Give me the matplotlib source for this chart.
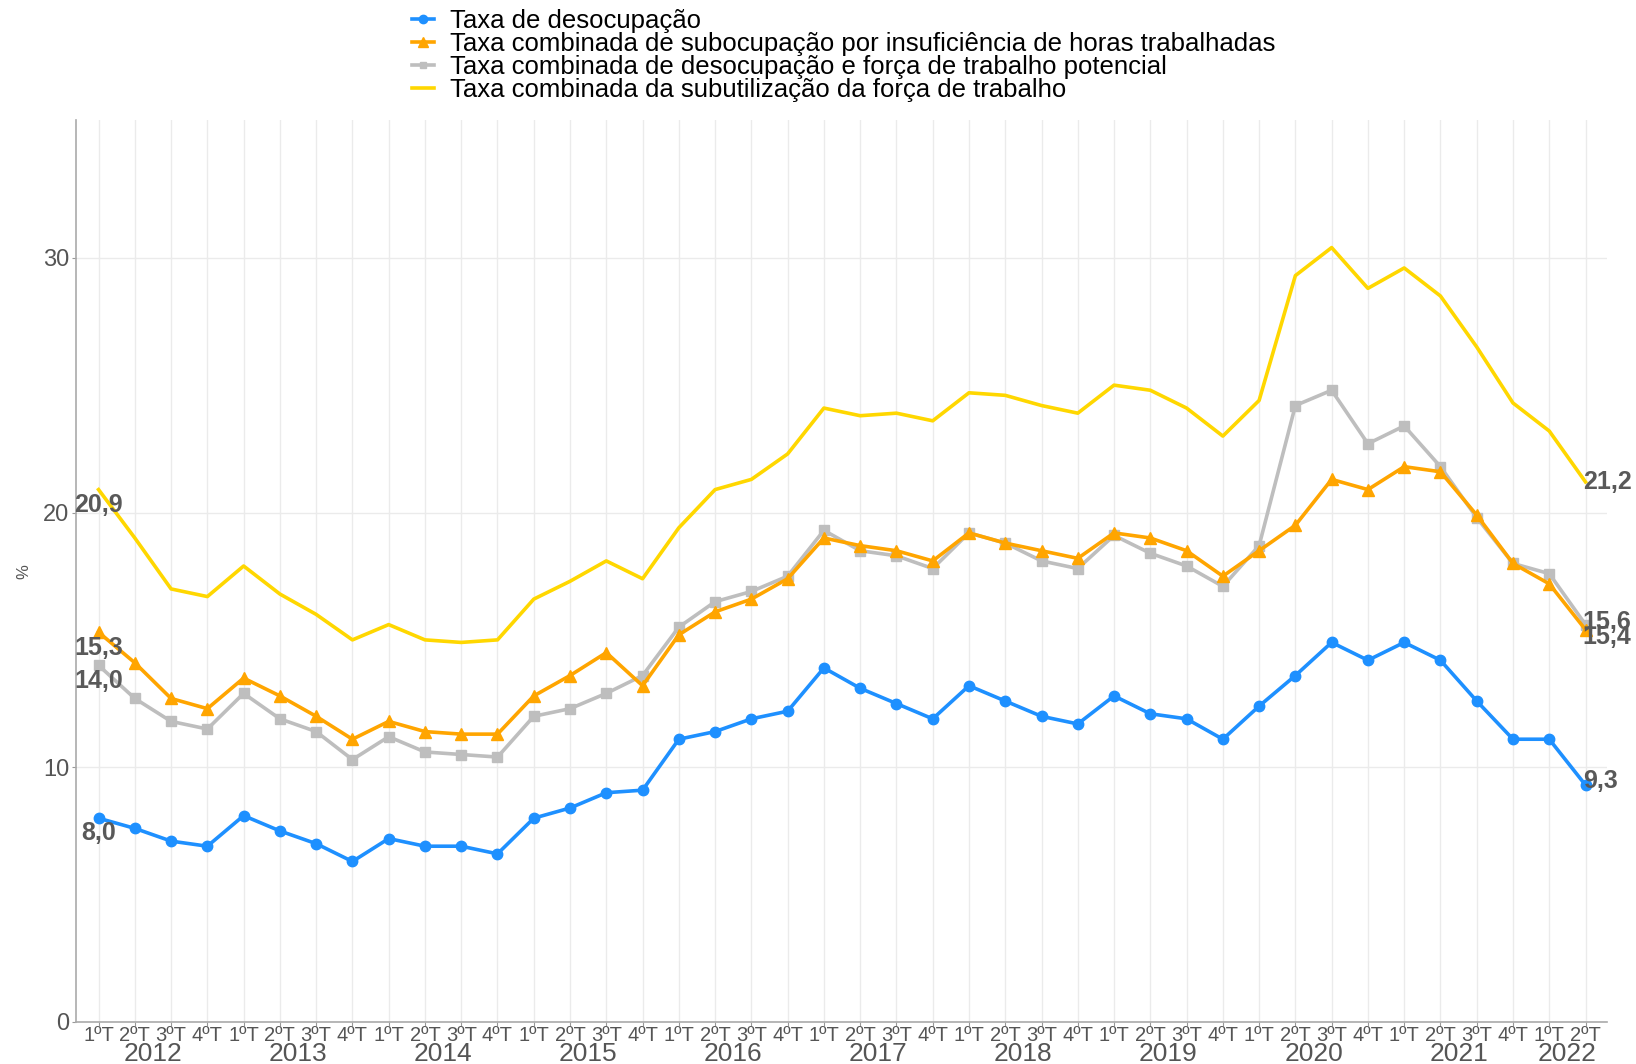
import matplotlib
matplotlib.use("Agg")
import matplotlib.pyplot as plt
from matplotlib.lines import Line2D
from matplotlib import transforms

plt.rcParams['font.family'] = ['Liberation Sans', 'DejaVu Sans']

# trimestres 2012T1 .. 2022T2
anos = ['2012', '2013', '2014', '2015', '2016', '2017', '2018', '2019', '2020', '2021', '2022']
trimestres = ['1ºT', '2ºT', '3ºT', '4ºT'] * 10 + ['1ºT', '2ºT']

desocupacao = [8.0, 7.6, 7.1, 6.9, 8.1, 7.5, 7.0, 6.3, 7.2, 6.9, 6.9, 6.6,
               8.0, 8.4, 9.0, 9.1, 11.1, 11.4, 11.9, 12.2, 13.9, 13.1, 12.5, 11.9,
               13.2, 12.6, 12.0, 11.7, 12.8, 12.1, 11.9, 11.1, 12.4, 13.6, 14.9, 14.2,
               14.9, 14.2, 12.6, 11.1, 11.1, 9.3]
subocupacao = [15.3, 14.1, 12.7, 12.3, 13.5, 12.8, 12.0, 11.1, 11.8, 11.4, 11.3, 11.3,
               12.8, 13.6, 14.5, 13.2, 15.2, 16.1, 16.6, 17.4, 19.0, 18.7, 18.5, 18.1,
               19.2, 18.8, 18.5, 18.2, 19.2, 19.0, 18.5, 17.5, 18.5, 19.5, 21.3, 20.9,
               21.8, 21.6, 19.9, 18.0, 17.2, 15.4]
potencial = [14.0, 12.7, 11.8, 11.5, 12.9, 11.9, 11.4, 10.3, 11.2, 10.6, 10.5, 10.4,
             12.0, 12.3, 12.9, 13.6, 15.5, 16.5, 16.9, 17.5, 19.3, 18.5, 18.3, 17.8,
             19.2, 18.8, 18.1, 17.8, 19.1, 18.4, 17.9, 17.1, 18.7, 24.2, 24.8, 22.7,
             23.4, 21.8, 19.8, 18.0, 17.6, 15.6]
subutilizacao = [20.9, 19.0, 17.0, 16.7, 17.9, 16.8, 16.0, 15.0, 15.6, 15.0, 14.9, 15.0,
                 16.6, 17.3, 18.1, 17.4, 19.4, 20.9, 21.3, 22.3, 24.1, 23.8, 23.9, 23.6,
                 24.7, 24.6, 24.2, 23.9, 25.0, 24.8, 24.1, 23.0, 24.4, 29.3, 30.4, 28.8,
                 29.6, 28.5, 26.5, 24.3, 23.2, 21.2]

nomes = ['Taxa de desocupação',
         'Taxa combinada de subocupação por insuficiência de horas trabalhadas',
         'Taxa combinada de desocupação e força de trabalho potencial',
         'Taxa combinada da subutilização da força de trabalho']
cores = ['#1E90FF', '#FFA500', '#BEBEBE', '#FFD700']

x = list(range(len(trimestres)))

fig = plt.figure(figsize=(16.36, 10.64), dpi=100)
ax = fig.add_axes([0.0465, 0.0395, 0.9355, 0.8475])

ax.plot(x, subutilizacao, color=cores[3], lw=2.6, zorder=2)
ax.plot(x, potencial, color=cores[2], lw=2.6, marker='s', ms=6.5, zorder=3)
ax.plot(x, subocupacao, color=cores[1], lw=2.6, marker='^', ms=8.5, zorder=4)
ax.plot(x, desocupacao, color=cores[0], lw=2.6, marker='o', ms=7.5, zorder=5)

# rótulos no início e no fim das séries
rot = dict(fontsize=18, fontweight='bold', color='#595959', zorder=6)
for serie in [desocupacao, subocupacao, potencial, subutilizacao]:
    ax.annotate(f"{serie[0]:.1f}".replace('.', ','), (x[0], serie[0]),
                xytext=(0, -11), textcoords='offset points',
                ha='center', va='center', **rot)
fim = [(subutilizacao, 0), (potencial, 2), (subocupacao, -5), (desocupacao, 3)]
for serie, dy in fim:
    ax.annotate(f"{serie[-1]:.1f}".replace('.', ','), (x[-1], serie[-1]),
                xytext=(-2, dy), textcoords='offset points',
                ha='left', va='center', **rot)

ax.set_xlim(-0.62, 41.58)
ax.set_ylim(0, 35.4)
ax.set_yticks([0, 10, 20, 30])
ax.set_xticks(x)
ax.set_xticklabels(trimestres, fontsize=14.5, color='#555555')
ax.tick_params(axis='y', labelsize=17, labelcolor='#555555', color='#999999',
               length=3, pad=2)
ax.tick_params(axis='x', color='#999999', length=3, pad=0)
ax.grid(True, color='#EBEBEB', lw=1)
ax.set_axisbelow(True)
for s in ['top', 'right']:
    ax.spines[s].set_visible(False)
for s in ['left', 'bottom']:
    ax.spines[s].set_color('#AAAAAA')
    ax.spines[s].set_linewidth(1.2)

trans = transforms.blended_transform_factory(ax.transData, ax.transAxes)
for k, ano in enumerate(anos):
    pos = 4 * k + 1.5 if k < 10 else 40.5
    ax.text(pos, -0.0435, ano, transform=trans, ha='center', va='baseline',
            fontsize=19, color='#555555')

ax.set_ylabel('%', fontsize=12, color='#555555', labelpad=8)

handles = [Line2D([], [], color=cores[0], lw=2.6, marker='o', ms=6),
           Line2D([], [], color=cores[1], lw=2.6, marker='^', ms=7),
           Line2D([], [], color=cores[2], lw=2.6, marker='s', ms=5),
           Line2D([], [], color=cores[3], lw=2.6)]
fig.legend(handles, nomes, loc='upper left', bbox_to_anchor=(0.252, 0.992),
           frameon=False, fontsize=18.5, handlelength=0.85, handletextpad=0.6,
           labelspacing=-0.03, borderpad=0, borderaxespad=0)

fig.savefig('out.png', dpi=100, facecolor='white')
